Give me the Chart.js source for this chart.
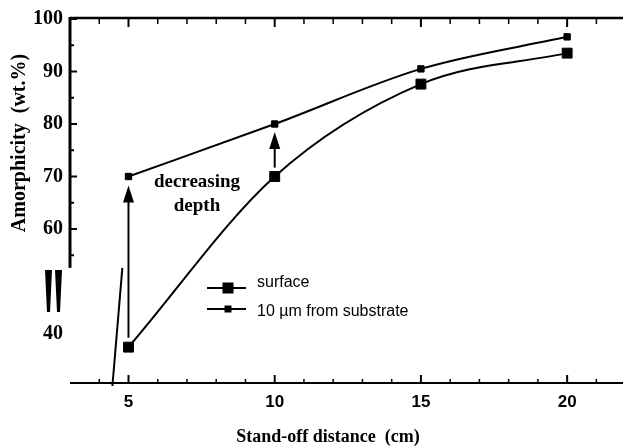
<!DOCTYPE html>
<html><head><meta charset="utf-8">
<script src="https://cdn.jsdelivr.net/npm/chart.js@4.4.0/dist/chart.umd.min.js"></script>
<style>html,body{margin:0;padding:0;background:#fff;overflow:hidden}#wrap{width:631px;height:448px;position:relative}</style>
</head><body><div id="wrap"><canvas id="c" width="631" height="448"></canvas></div>
<script>
// ---- data ----
const distances = [5, 10, 15, 20];
const surface = [37.5, 70, 87.6, 93.5];
const fromSubstrate = [70, 80, 90.5, 96.6];
const xTickLabels = [5, 10, 15, 20];
const yTickLabels = [40, 60, 70, 80, 90, 100];
const seriesNames = ['surface', '10 \u00b5m from substrate'];
const arrowsX = [5, 10];
const arrowsFrom = [39.3, 71.7];
const arrowsTo = [68.3, 78.5];
const annotationLines = ['decreasing', 'depth'];

const SERIF = '"Liberation Serif", "Times New Roman", serif';
const SANS = '"Liberation Sans", Arial, sans-serif';

const decor = {
  id: 'decor',
  afterDraw(chart) {
    const ctx = chart.ctx, xs = chart.scales.x, ys = chart.scales.y, ca = chart.chartArea;
    const X = v => xs.getPixelForValue(v), Y = v => ys.getPixelForValue(v);
    ctx.save();
    ctx.strokeStyle = '#000'; ctx.fillStyle = '#000';
    // top border
    ctx.lineWidth = 2.5;
    ctx.beginPath(); ctx.moveTo(ca.left, ca.top - 1); ctx.lineTo(ca.right, ca.top - 1); ctx.stroke();
    // left axis (broken)
    ctx.lineWidth = 3;
    ctx.beginPath(); ctx.moveTo(ca.left, ca.top - 2); ctx.lineTo(ca.left, Y(52.6)); ctx.stroke();
    // bottom axis
    ctx.lineWidth = 2;
    ctx.beginPath(); ctx.moveTo(ca.left, ca.bottom); ctx.lineTo(ca.right, ca.bottom); ctx.stroke();
    // y ticks inward
    ctx.lineWidth = 2;
    for (let v = 55; v <= 100; v += 5) {
      const len = (v % 10 === 0) ? 7 : 4;
      ctx.beginPath(); ctx.moveTo(ca.left, Y(v)); ctx.lineTo(ca.left + len, Y(v)); ctx.stroke();
    }
    // x ticks (bottom, up) and top ticks (down)
    for (let v = 4; v <= 21; v++) {
      const major = v % 5 === 0;
      ctx.lineWidth = major ? 2 : 1.5;
      ctx.beginPath(); ctx.moveTo(X(v), ca.bottom); ctx.lineTo(X(v), ca.bottom - (major ? 8 : 4)); ctx.stroke();
      ctx.beginPath(); ctx.moveTo(X(v), ca.top); ctx.lineTo(X(v), ca.top + (major ? 8 : 5)); ctx.stroke();
    }
    // break marks "||" on y axis
    [[45, 52], [55, 62]].forEach(([a, b]) => {
      ctx.beginPath();
      ctx.moveTo(a, 270); ctx.lineTo(b, 270);
      ctx.lineTo(b - 2, 312); ctx.lineTo(a + 2, 312); ctx.closePath(); ctx.fill();
    });
    // slanted break line
    ctx.lineWidth = 2;
    ctx.beginPath(); ctx.moveTo(X(4.79), Y(52.6)); ctx.lineTo(X(4.45), ca.bottom + 3); ctx.stroke();
    // arrows
    for (let i = 0; i < arrowsX.length; i++) {
      const x = X(arrowsX[i]), y0 = Y(arrowsFrom[i]), y1 = Y(arrowsTo[i]);
      ctx.lineWidth = 2;
      ctx.beginPath(); ctx.moveTo(x, y0); ctx.lineTo(x, y1 + 14); ctx.stroke();
      ctx.beginPath(); ctx.moveTo(x, y1); ctx.lineTo(x - 5.5, y1 + 17); ctx.lineTo(x + 5.5, y1 + 17); ctx.closePath(); ctx.fill();
    }
    // annotation
    ctx.font = 'bold 19px ' + SERIF;
    ctx.textAlign = 'center'; ctx.textBaseline = 'middle';
    ctx.fillText(annotationLines[0], 197, 182);
    ctx.fillText(annotationLines[1], 197, 206);
    // legend
    const rows = [{y: 288, size: 11}, {y: 309, size: 7}];
    rows.forEach((r, i) => {
      ctx.lineWidth = 2;
      ctx.beginPath(); ctx.moveTo(207, r.y); ctx.lineTo(246, r.y); ctx.stroke();
      ctx.fillRect(228 - r.size / 2, r.y - r.size / 2, r.size, r.size);
      ctx.font = '16px ' + SANS; ctx.textAlign = 'left'; ctx.textBaseline = 'middle';
      ctx.fillText(seriesNames[i], 257, r.y - (i === 0 ? 5 : -3));
    });
    // axis titles
    ctx.font = 'bold 18px ' + SERIF;
    ctx.textAlign = 'center'; ctx.textBaseline = 'middle';
    ctx.fillText('Stand-off distance  (cm)', 328, 437);
    ctx.font = 'bold 20px ' + SERIF;
    ctx.save();
    ctx.translate(20, 143); ctx.rotate(-Math.PI / 2);
    ctx.fillText('Amorphicity  (wt.%)', 0, 0);
    ctx.restore();
    ctx.restore();
  }
};

const mk = (ys) => distances.map((x, i) => ({x, y: ys[i]}));

new Chart(document.getElementById('c'), {
  type: 'line',
  data: {
    datasets: [
      {label: seriesNames[0], data: mk(surface), borderColor: '#000', backgroundColor: '#000', borderWidth: 2,
       pointStyle: 'rect', pointRadius: 7, pointBorderWidth: 1, cubicInterpolationMode: 'monotone', fill: false},
      {label: seriesNames[1], data: mk(fromSubstrate), borderColor: '#000', backgroundColor: '#000', borderWidth: 2,
       pointStyle: 'rect', pointRadius: 4.5, pointBorderWidth: 1, cubicInterpolationMode: 'monotone', fill: false}
    ]
  },
  options: {
    responsive: false, animation: false, devicePixelRatio: 1,
    layout: {padding: {top: 19, right: 0, bottom: 0, left: 0}},
    plugins: {legend: {display: false}, tooltip: {enabled: false}},
    scales: {
      x: {type: 'linear', min: 3, max: 21.91,
          afterBuildTicks: s => { s.ticks = xTickLabels.map(v => ({value: v})); },
          afterFit: s => { s.height = 65; },
          grid: {display: false, drawTicks: false}, border: {display: false},
          ticks: {padding: 9, color: '#000', autoSkip: false, maxRotation: 0,
                  font: {family: SANS, weight: 'bold', size: 17}}},
      y: {type: 'linear', min: 30.67, max: 100,
          afterBuildTicks: s => { s.ticks = yTickLabels.map(v => ({value: v})); },
          afterFit: s => { s.width = 70; },
          grid: {display: false, drawTicks: false}, border: {display: false},
          ticks: {padding: 7, color: '#000', autoSkip: false,
                  font: {family: SERIF, weight: 'bold', size: 20}}}
    }
  },
  plugins: [decor]
});
</script></body></html>
